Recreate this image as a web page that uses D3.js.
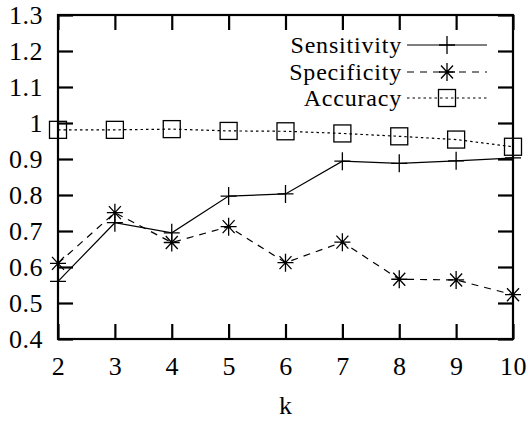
<!DOCTYPE html>
<html><head><meta charset="utf-8">
<script src="https://cdn.jsdelivr.net/npm/d3@7"></script>
<style>body{margin:0;background:#fff}svg{display:block}</style>
</head><body>
<script>
const kValues = [2, 3, 4, 5, 6, 7, 8, 9, 10];
const sensitivity = [0.56, 0.723, 0.695, 0.797, 0.803, 0.894, 0.888, 0.895, 0.903];
const specificity = [0.61, 0.751, 0.668, 0.712, 0.612, 0.669, 0.566, 0.564, 0.523];
const accuracy = [0.981, 0.981, 0.983, 0.978, 0.977, 0.971, 0.963, 0.954, 0.934];
const yTicks = [0.4, 0.5, 0.6, 0.7, 0.8, 0.9, 1.0, 1.1, 1.2, 1.3];
const seriesNames = ["Sensitivity", "Specificity", "Accuracy"];

const FONT = "Liberation Serif";
const W = 528, H = 421;
const m = {left: 58, right: 15, top: 15, bottom: 82};
const svg = d3.select("body").append("svg").attr("width", W).attr("height", H);
const x = d3.scaleLinear().domain([2, 10]).range([m.left, W - m.right]);
const y = d3.scaleLinear().domain([0.4, 1.3]).range([H - m.bottom, m.top]);

const fs = 26;
const legFs = 24;
const tickLen = 15;
const g = svg.append("g");
const axL = g.append("g").attr("transform", `translate(${m.left},0)`)
  .call(d3.axisLeft(y).tickValues(yTicks).tickSize(-tickLen).tickPadding(15)
    .tickFormat(d => d === 1 ? "1" : d3.format(".1f")(d)));
const axR = g.append("g").attr("transform", `translate(${W - m.right},0)`)
  .call(d3.axisRight(y).tickValues(yTicks).tickSize(-tickLen).tickFormat(""));
const axB = g.append("g").attr("transform", `translate(0,${H - m.bottom})`)
  .call(d3.axisBottom(x).tickValues(kValues).tickSize(-tickLen).tickPadding(17.5).tickFormat(d3.format("d")));
const axT = g.append("g").attr("transform", `translate(0,${m.top})`)
  .call(d3.axisTop(x).tickValues(kValues).tickSize(-tickLen).tickFormat(""));
g.selectAll("g").attr("font-family", FONT).attr("font-size", fs);
g.selectAll(".domain").remove();
g.selectAll(".tick line").attr("stroke", "#000").attr("stroke-width", 2.2);
g.selectAll(".tick text").attr("font-family", FONT).attr("font-size", fs)
  .attr("fill", "#000").attr("letter-spacing", 0.5);
axL.selectAll(".tick text").attr("dy", "0.34em");
svg.append("rect").attr("x", m.left).attr("y", m.top)
  .attr("width", W - m.left - m.right).attr("height", H - m.top - m.bottom)
  .attr("fill", "none").attr("stroke", "#000").attr("stroke-width", 2.2);

svg.append("text").attr("x", (m.left + W - m.right) / 2).attr("y", 414)
  .attr("text-anchor", "middle").attr("font-size", fs).attr("font-family", FONT).text("k");

const dashes = [null, "7,6", "2.5,3"];
const data = [sensitivity, specificity, accuracy];

function marker(sel, type, cx, cy) {
  const gg = sel.append("g").attr("transform", `translate(${cx},${cy})`)
    .attr("stroke", "#000").attr("stroke-width", 1.3).attr("fill", "none");
  if (type === 0) {
    gg.append("path").attr("d", "M-8,0H8M0,-9V9");
  } else if (type === 1) {
    gg.append("path").attr("d", "M-8,0H8M0,-9V9M-6,-6.5L6,6.5M-6,6.5L6,-6.5");
  } else {
    gg.append("rect").attr("x", -8.5).attr("y", -8.5).attr("width", 17).attr("height", 17);
  }
}

const line = d3.line().x((d, i) => x(kValues[i])).y(d => y(d));
data.forEach((vals, s) => {
  svg.append("path").datum(vals).attr("d", line).attr("fill", "none")
    .attr("stroke", "#000").attr("stroke-width", 1.2)
    .attr("stroke-dasharray", dashes[s]);
  vals.forEach((v, i) => marker(svg, s, x(kValues[i]), y(v)));
});

const legY = [45, 72, 98];
seriesNames.forEach((name, s) => {
  svg.append("text").attr("x", 402).attr("y", legY[s]).attr("dy", "0.32em")
    .attr("text-anchor", "end").attr("font-size", legFs).attr("font-family", FONT)
    .attr("letter-spacing", 0.8).text(name);
  svg.append("line").attr("x1", 407).attr("x2", 487).attr("y1", legY[s]).attr("y2", legY[s])
    .attr("stroke", "#000").attr("stroke-width", 1.2).attr("stroke-dasharray", dashes[s]);
  marker(svg, s, 447, legY[s]);
});
</script>
</body></html>
